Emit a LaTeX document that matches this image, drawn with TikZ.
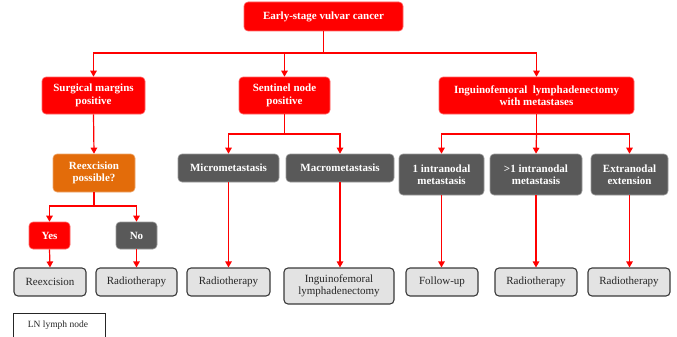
\documentclass[tikz,border=0pt]{standalone}
\usepackage{fontspec}
\setmainfont{Liberation Serif}
\usetikzlibrary{arrows.meta,calc}
\definecolor{bred}{HTML}{FF0000}
\definecolor{borange}{HTML}{E36C0A}
\definecolor{bdark}{HTML}{595959}
\definecolor{blight}{HTML}{E3E3E3}
\definecolor{bline}{HTML}{3A3A3A}
\begin{document}
\begin{tikzpicture}[x=1pt,y=-1pt,
  box/.style={rounded corners=4pt,align=center,inner sep=1pt,font=\fontsize{11}{12.3}\selectfont},
  redbox/.style={box,fill=bred,draw=bred!60!white,line width=0.6pt,text=white,font=\fontsize{11}{12.3}\selectfont\bfseries},
  orbox/.style={box,fill=borange,draw=borange!60!white,line width=0.6pt,text=white,font=\fontsize{11}{12.3}\selectfont\bfseries},
  dkbox/.style={box,fill=bdark,draw=bdark!60!white,line width=0.6pt,text=white,font=\fontsize{11}{12.3}\selectfont\bfseries},
  ltbox/.style={box,fill=blight,draw=bline,line width=1.1pt,text=black!85},
  arr/.style={draw=bred,line width=1.2pt,-{Triangle[width=6.5pt,length=6pt]}},
  ln/.style={draw=bred,line width=1.2pt}]
\useasboundingbox (0,0) rectangle (677,337);
% level 0
\node[redbox,minimum width=159pt,minimum height=29pt] (top) at (323.5,16.5) {Early-stage vulvar cancer};
% level 1
\node[redbox,minimum width=103pt,minimum height=37pt] (sm) at (93.5,95.5) {Surgical margins\\positive};
\node[redbox,minimum width=91pt,minimum height=37pt] (sn) at (284.5,95.5) {Sentinel node\\positive};
\node[redbox,minimum width=195pt,minimum height=37pt] (ilm) at (536.5,95.5) {Inguinofemoral~~lymphadenectomy\\with metastases};
% level 2
\node[orbox,minimum width=82pt,minimum height=38pt] (rp) at (94,173) {Reexcision\\possible?};
\node[dkbox,minimum width=101pt,minimum height=28pt] (micro) at (228.5,168) {Micrometastasis};
\node[dkbox,minimum width=108pt,minimum height=28pt] (macro) at (340,168) {Macrometastasis};
\node[dkbox,minimum width=85pt,minimum height=41pt] (one) at (441.5,174.5) {1 intranodal\\metastasis};
\node[dkbox,minimum width=92pt,minimum height=41pt] (more) at (536,174.5) {>1 intranodal\\metastasis};
\node[dkbox,minimum width=77pt,minimum height=41pt] (extra) at (629.5,174.5) {Extranodal\\extension};
% yes / no
\node[redbox,minimum width=41pt,minimum height=27pt] (yes) at (49.5,235.5) {Yes};
\node[dkbox,minimum width=41pt,minimum height=27pt] (no) at (136.5,235.5) {No};
% outcomes
\node[ltbox,minimum width=72pt,minimum height=28pt] (rex) at (50,282) {Reexcision};
\node[ltbox,minimum width=81pt,minimum height=28pt] (rt1) at (136.5,282) {Radiotherapy};
\node[ltbox,minimum width=83pt,minimum height=28pt] (rt2) at (228.5,282) {Radiotherapy};
\node[ltbox,minimum width=110pt,minimum height=36pt] (ilm2) at (339,286) {Inguinofemoral\\lymphadenectomy};
\node[ltbox,minimum width=72pt,minimum height=28pt] (fu) at (442,282) {Follow-up};
\node[ltbox,minimum width=82pt,minimum height=28pt] (rt3) at (536,282) {Radiotherapy};
\node[ltbox,minimum width=82pt,minimum height=28pt] (rt4) at (629,282) {Radiotherapy};
% legend
\begin{scope}
\clip (0,0) rectangle (677,337);
\draw[line width=0.8pt,black!85] (13,313) rectangle (105,345);
\end{scope}
\node[font=\fontsize{9.5}{11}\selectfont,text=black!85] (leg) at (58,325) {LN lymph node};
% junctions
\coordinate (j1) at (323.5,53);
\coordinate (j2) at (94,206);
\coordinate (j3) at (284.5,134);
\coordinate (j4) at (536.5,134);
% connectors
\draw[ln] (top.south) -- (j1);
\draw[arr] (j1) -| (sm.north);
\draw[arr] (j1) -| (ilm.north);
\draw[arr] (sn.north |- j1) -- (sn.north);
\draw[arr] (sm.south) -- (rp.north);
\draw[ln] (rp.south) -- (j2);
\draw[arr] (j2) -| (yes.north);
\draw[arr] (j2) -| (no.north);
\draw[arr] (yes.south) -- (rex.north);
\draw[arr] (no.south) -- (rt1.north);
\draw[ln] (sn.south) -- (j3);
\draw[arr] (j3) -| (micro.north);
\draw[arr] (j3) -| (macro.north);
\draw[arr] (micro.south) -- (rt2.north);
\draw[arr] (macro.south) -- (macro.south |- ilm2.north);
\draw[ln] (ilm.south) -- (j4);
\draw[arr] (j4) -| (one.north);
\draw[arr] (j4) -- (more.north);
\draw[arr] (j4) -| (extra.north);
\draw[arr] (one.south) -- (one.south |- fu.north);
\draw[arr] (more.south) -- (rt3.north);
\draw[arr] (extra.south) -- (extra.south |- rt4.north);
\end{tikzpicture}
\end{document}
